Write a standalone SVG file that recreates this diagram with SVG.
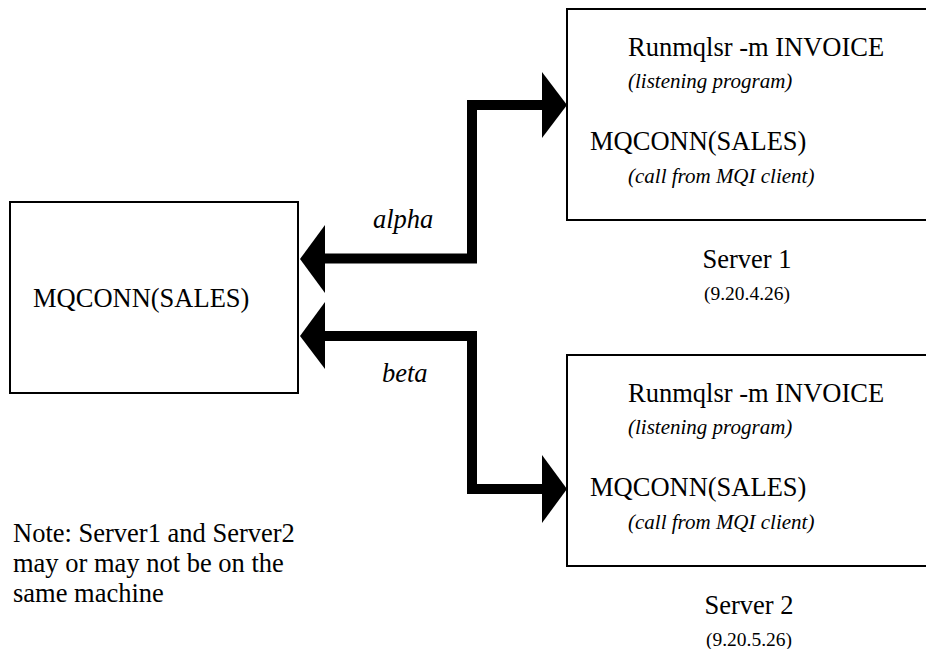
<svg xmlns="http://www.w3.org/2000/svg" width="926" height="649" viewBox="0 0 926 649">
<style>
.box{fill:#fff;stroke:#000;stroke-width:2}
.t{font-family:"Liberation Serif","Times New Roman",serif;fill:#000;font-size:26.5px}
.i{font-style:italic}
.s{font-size:21px}
.ip{font-size:19.5px}
.shaft{fill:none;stroke:#000;stroke-width:10;stroke-linejoin:miter}
.head{fill:#000}
</style>
<rect width="926" height="649" fill="#fff"/>
<g id="connectors">
  <g id="alpha">
    <path class="shaft" d="M322 258.5 H472 V105 H545"/>
    <polygon class="head" points="542,72 567,105 542,138"/>
    <polygon class="head" points="325,225 300,259 325,293"/>
    <text class="t i" x="373" y="228">alpha</text>
  </g>
  <g id="beta">
    <path class="shaft" d="M322 336 H472 V489 H545"/>
    <polygon class="head" points="325,302 300,336 325,369"/>
    <polygon class="head" points="542,455 567,489 542,523"/>
    <text class="t i" x="382" y="382">beta</text>
  </g>
</g>
<g id="client">
  <rect class="box" x="10" y="202" width="288" height="191"/>
  <text class="t" x="33" y="307">MQCONN(SALES)</text>
</g>
<g id="server1">
  <rect class="box" x="567" y="9" width="370" height="211"/>
  <text class="t" x="628" y="56">Runmqlsr -m INVOICE</text>
  <text class="t i s" x="628" y="88">(listening program)</text>
  <text class="t" x="590" y="150">MQCONN(SALES)</text>
  <text class="t i s" x="628" y="183">(call from MQI client)</text>
  <text class="t" x="747" y="268" text-anchor="middle">Server 1</text>
  <text class="t ip" x="747" y="300" text-anchor="middle">(9.20.4.26)</text>
</g>
<g id="server2">
  <rect class="box" x="567" y="355" width="370" height="211"/>
  <text class="t" x="628" y="402">Runmqlsr -m INVOICE</text>
  <text class="t i s" x="628" y="434">(listening program)</text>
  <text class="t" x="590" y="496">MQCONN(SALES)</text>
  <text class="t i s" x="628" y="529">(call from MQI client)</text>
  <text class="t" x="749" y="614" text-anchor="middle">Server 2</text>
  <text class="t ip" x="749" y="646" text-anchor="middle">(9.20.5.26)</text>
</g>
<g id="note">
  <text class="t" x="13" y="542">Note: Server1 and Server2</text>
  <text class="t" x="13" y="572">may or may not be on the</text>
  <text class="t" x="13" y="602">same machine</text>
</g>
</svg>
